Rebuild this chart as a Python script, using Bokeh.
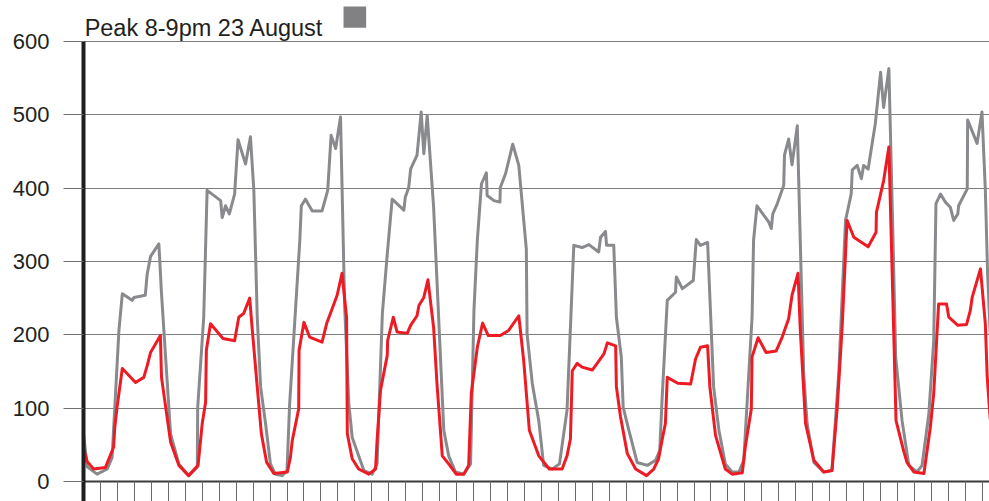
from bokeh.plotting import figure
from bokeh.models import Range1d, FixedTicker, Label, BoxAnnotation
from bokeh.embed import file_html
from bokeh.resources import INLINE

# ---- data (hours from start, value) ----
grey_hours = [0, 1.0, 3.6, 6.3, 7.6, 8.0, 9.4, 10.3, 12.9, 13.4, 16.4, 16.9, 17.8, 20.0, 20.7, 23.1, 25.3, 27.9,
              30.2, 30.3, 31.9, 32.8, 36.4, 36.8, 37.7, 38.7, 40.1, 41.0, 43.0, 44.3, 45.2, 46.1, 47.0, 48.3, 49.6,
              50.9, 52.7, 54.0, 54.7, 56.3, 57.4, 57.8, 58.9, 60.7, 63.3, 64.8, 65.7, 66.9, 68.2, 69.3, 70.4, 71.3,
              74.4, 76.6, 77.9, 79.3, 80.6, 81.9, 85.0, 85.4, 86.3, 86.8, 88.5, 89.6, 90.3, 91.2, 92.9, 95.6, 96.9,
              98.7, 100.9, 102.7, 103.6, 104.5, 105.6, 106.9, 107.1, 108.9, 110.5, 110.6, 112.0, 113.9, 115.5, 117.5,
              117.7, 119.1, 120.8, 122.1, 124.4, 126.3, 128.3, 130.1, 132.3, 134.1, 136.7, 137.2, 138.5, 138.8, 140.7,
              141.4, 142.7, 143.2, 144.7, 146.9, 149.6, 151.8, 152.9, 153.5, 154.9, 157.1, 157.3, 158.9, 161.8, 162.6,
              163.7, 165.6, 167.2, 168.6, 170.3, 172.1, 173.9, 175.2, 177.4, 177.8, 178.7, 181.8, 182.5, 182.9, 184.1,
              185.8, 186.0, 187.1, 188.0, 189.4, 191.1, 192.0, 193.8, 196.4, 198.6, 200.4, 202.2, 203.7, 204.0, 205.3,
              206.4, 207.0, 208.2, 210.1, 211.5, 212.3, 213.7, 214.8, 215.5, 217.2, 219.0, 221.2, 222.5, 224.3, 225.6,
              226.2, 227.4, 228.7, 230.0, 230.9, 232.0, 232.2, 234.5, 234.6, 237.1, 238.4, 239.3, 239.9, 240.6]
grey_values = [65, 20, 10, 17, 33, 72, 206, 256, 247, 251, 254, 283, 307, 324, 256, 65, 24, 8,
               20, 101, 224, 397, 383, 360, 376, 365, 392, 466, 433, 470, 397, 224, 129, 79, 24,
               10, 8, 15, 106, 238, 329, 376, 385, 369, 369, 397, 472, 454, 497, 238, 106, 60,
               15, 10, 24, 229, 310, 385, 370, 388, 401, 426, 445, 504, 447, 499, 374, 70, 35,
               13, 10, 24, 233, 329, 406, 421, 390, 383, 381, 401, 420, 460, 431, 317,
               201, 133, 83, 22, 17, 24, 97, 322, 319, 323, 313, 333, 341, 322, 322,
               224, 170, 101, 70, 26, 22, 29, 42, 110, 247, 258, 279, 263, 274, 330,
               322, 326, 129, 70, 24, 13, 13, 29, 224, 329, 376, 354, 345, 365, 379,
               404, 445, 467, 432, 485, 147, 79, 26, 13, 15, 147, 356, 392, 425, 431,
               413, 431, 426, 488, 558, 510, 563, 330, 170, 83, 22, 13, 22, 92, 192,
               379, 392, 381, 374, 356, 365, 376, 399, 493, 461, 504, 397, 283, 200]

red_hours = [0, 1.0, 2.7, 5.8, 8.0, 8.3, 8.9, 10.3, 13.8, 16.0, 16.9, 17.8, 20.4, 20.7, 23.1, 25.3, 27.9,
             30.4, 31.5, 32.4, 32.6, 33.7, 37.0, 40.1, 41.2, 41.7, 42.5, 44.1, 44.8, 46.1, 47.2, 48.6, 50.5,
             54.1, 54.9, 55.4, 57.1, 57.2, 58.5, 60.0, 63.3, 64.5, 67.3, 68.6, 69.8, 70.0, 71.3, 73.0, 75.7,
             77.5, 77.9, 78.8, 80.6, 80.7, 82.2, 83.2, 85.9, 86.8, 88.5, 89.0, 90.3, 91.4, 92.9, 93.8, 95.2,
             96.9, 98.9, 100.9, 102.2, 102.9, 104.5, 105.9, 107.4, 110.6, 112.8, 115.5, 116.8, 118.3, 120.8,
             123.6, 127.0, 128.3, 129.2, 129.7, 131.0, 132.3, 135.0, 138.1, 139.0, 141.2, 141.4, 142.5, 144.3,
             146.5, 149.4, 151.3, 152.6, 153.5, 154.4, 154.9, 157.7, 161.1, 162.4, 163.7, 165.6, 166.2, 167.7,
             170.3, 172.1, 174.8, 175.6, 177.2, 177.4, 179.0, 181.1, 183.8, 185.4, 187.1, 188.0, 189.6, 190.2,
             191.6, 193.8, 196.4, 198.6, 200.0, 201.3, 202.6, 204.4, 208.2, 210.3, 210.4, 212.3, 213.7, 215.6,
             217.6, 218.5, 220.3, 223.0, 224.7, 225.6, 226.9, 229.0, 229.6, 232.0, 234.3, 235.3, 235.8, 238.0,
             239.3, 239.8, 240.6]
red_values = [45, 27, 17, 19, 47, 74, 101, 154, 135, 142, 158, 176, 199, 142, 54, 22, 8,
              22, 79, 108, 179, 215, 195, 192, 224, 226, 229, 250, 206, 129, 65, 26, 11,
              13, 33, 56, 99, 179, 217, 197, 190, 215, 254, 284, 224, 65, 31, 17, 10,
              17, 56, 124, 172, 192, 224, 204, 202, 213, 226, 240, 251, 275, 210, 133, 35,
              24, 10, 10, 22, 120, 183, 216, 199, 199, 206, 226, 165, 70, 35,
              17, 17, 35, 58, 151, 161, 156, 152, 174, 189, 185, 129, 88, 38,
              17, 8, 17, 31, 56, 79, 142, 134, 133, 167, 183, 185, 129, 63,
              17, 10, 12, 47, 99, 170, 196, 176, 178, 197, 222, 254, 284, 206,
              79, 29, 13, 15, 101, 210, 356, 333, 320, 340, 367, 410, 456, 83,
              42, 26, 13, 11, 74, 120, 242, 242, 224, 213, 214, 233, 251, 290,
              215, 142, 85]

y_ticks = [0, 100, 200, 300, 400, 500, 600]
x_tick_step = 4.5
title_text = "Peak 8-9pm 23 August"

assert len(grey_hours) == len(grey_values), (len(grey_hours), len(grey_values))
assert len(red_hours) == len(red_values), (len(red_hours), len(red_values))

X_END = 240.4
Y_BOTTOM = -27.27
Y_TOP = 655.9

p = figure(width=989, height=501,
           x_range=Range1d(0, X_END), y_range=Range1d(Y_BOTTOM, Y_TOP),
           output_backend="svg", toolbar_location=None,
           min_border_left=83, min_border_right=0, min_border_top=0, min_border_bottom=0,
           outline_line_color=None, background_fill_color="white", border_fill_color="white")

# y axis: thick black line from 600 down to the bottom edge
p.yaxis.ticker = FixedTicker(ticks=y_ticks)
p.yaxis.bounds = (Y_BOTTOM, 600)
p.yaxis.axis_line_color = "#1e1e1e"
p.yaxis.axis_line_width = 4
p.yaxis.major_tick_out = 20
p.yaxis.major_tick_in = 0
p.yaxis.major_tick_line_color = "#6e6e6e"
p.yaxis.major_tick_line_width = 1
p.yaxis.minor_tick_line_color = None
p.yaxis.major_label_text_font = "Liberation Sans"
p.yaxis.major_label_text_font_size = "22px"
p.yaxis.major_label_text_color = "#231f20"
p.yaxis.major_label_standoff = 14

# x axis at value 0: dark base line and tick marks hanging below it
x_ticks = [x_tick_step * k for k in range(int(X_END // x_tick_step) + 1)]
p.xaxis.fixed_location = 0
p.xaxis.ticker = FixedTicker(ticks=x_ticks)
p.xaxis.axis_line_color = "#3a3a3a"
p.xaxis.axis_line_width = 2
p.xaxis.major_tick_in = 0
p.xaxis.major_tick_out = 20
p.xaxis.major_tick_line_color = "#6a6a6a"
p.xaxis.major_tick_line_width = 1
p.xaxis.minor_tick_line_color = None
p.xaxis.major_label_overrides = {t: "" for t in x_ticks}
p.xaxis.major_label_standoff = 0

# grid
p.xgrid.grid_line_color = None
p.ygrid.ticker = FixedTicker(ticks=y_ticks)
p.ygrid.grid_line_color = "#7d7d7d"
p.ygrid.grid_line_width = 1

p.line(grey_hours, grey_values, line_color="#898a8d", line_width=3, line_join="round")
p.line(red_hours, red_values, line_color="#ed1c24", line_width=3, line_join="round")

p.add_layout(Label(x=0.3, y=618.7, text=title_text, text_font="Liberation Sans",
                   text_font_size="23.5px", text_color="#231f20", text_baseline="alphabetic"))
p.add_layout(BoxAnnotation(left=69.0, right=75.0, bottom=618.7, top=647.7,
                           fill_color="#818184", fill_alpha=1, line_color=None))

open("out.html", "w").write(file_html(p, INLINE))
